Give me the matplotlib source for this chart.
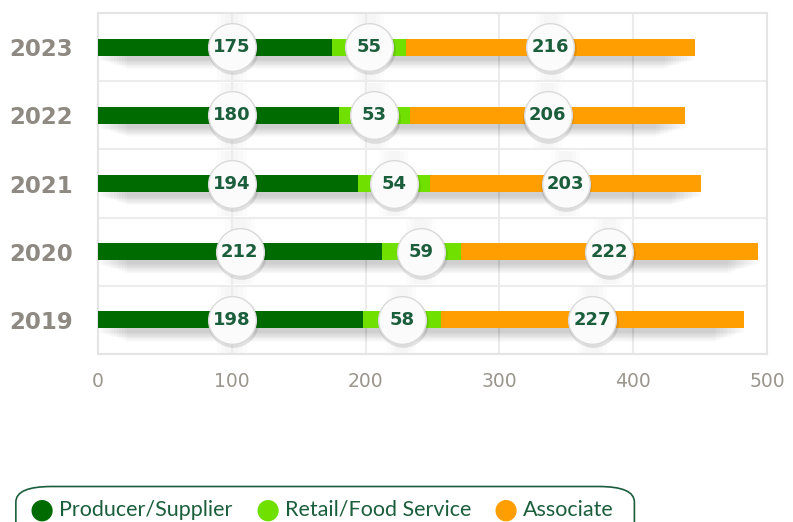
import numpy as np
import matplotlib
matplotlib.use("Agg")
import matplotlib.pyplot as plt
from matplotlib.patches import FancyBboxPatch

years = ["2019", "2020", "2021", "2022", "2023"]
producer = [198, 212, 194, 180, 175]
retail = [58, 59, 54, 53, 55]
associate = [227, 222, 203, 206, 216]

series_names = ["Producer/Supplier", "Retail/Food Service", "Associate"]
colors = ["#006b00", "#6fe000", "#ff9e00"]
label_color = "#1b5e3b"
grey_text = "#8e8a82"

fig = plt.figure(figsize=(7.93, 5.22), dpi=100)
ax = fig.add_axes([0.1236, 0.3218, 0.8436, 0.6533])

y = np.arange(len(years))
bar_h = 0.25
values = [np.array(producer), np.array(retail), np.array(associate)]
total = sum(values)

# soft shadow under the bars
for k in range(12):
    ax.barh(y - 0.06 - k * 0.012, total - 4 * k, left=2 * k, height=bar_h,
            color="#000000", alpha=0.014, zorder=2, linewidth=0)

left = np.zeros(len(years))
centers = []
for vals, c in zip(values, colors):
    ax.barh(y, vals, left=left, height=bar_h, color=c, zorder=3, linewidth=0)
    centers.append(left + vals / 2)
    left = left + vals

# value bubbles
for i, (vals, cen) in enumerate(zip(values, centers)):
    if i == 0:
        cen = np.maximum(cen, 100)
    for yy, xx, v in zip(y, cen, vals):
        # faint vertical glow behind the bubble
        for w in (22, 16, 10):
            ax.add_patch(plt.Rectangle((xx - w / 2, yy - 0.48), w, 0.96, color="#000000",
                                       alpha=0.012, zorder=1, linewidth=0))
        ax.scatter(xx + 0.6, yy - 0.035, s=1330, color="#000000", alpha=0.10,
                   zorder=4, linewidths=0)
        ax.scatter(xx, yy, s=1180, color="#fbfbfb", edgecolors="#dadada",
                   linewidths=1.0, zorder=5)
        ax.text(xx, yy, str(v), ha="center", va="center", fontsize=13,
                fontweight="bold", color=label_color, zorder=6)

ax.set_xlim(0, 500)
ax.set_ylim(-0.5, 4.5)
ax.set_xticks([0, 100, 200, 300, 400, 500])
ax.set_yticks(y)
ax.set_yticklabels(years, fontsize=16.5, fontweight="bold", color=grey_text)
ax.tick_params(axis="x", colors="#9a968e", labelsize=13.5, length=0, pad=13)
ax.tick_params(axis="y", length=0, pad=18)
ax.set_yticks(np.arange(-0.5, 5, 1), minor=True)
ax.grid(True, axis="x", color="#ececec", linewidth=1.5, zorder=0)
ax.grid(True, axis="y", which="minor", color="#ececec", linewidth=1.5, zorder=0)
ax.tick_params(axis="y", which="minor", length=0)
for s in ax.spines.values():
    s.set_color("#e4e4e4")
    s.set_linewidth(1.5)

# legend box
box = FancyBboxPatch((0.02, -0.06), 0.78, 0.128, transform=fig.transFigure,
                     boxstyle="round,pad=0,rounding_size=0.045",
                     facecolor="white", edgecolor=label_color, linewidth=1.2,
                     mutation_aspect=0.66)
fig.add_artist(box)
leg_x = [0.053, 0.338, 0.638]
for lx, name, c in zip(leg_x, series_names, colors):
    fig.text(lx, 0.024, "\u25cf", color=c, fontsize=20, ha="center", va="center")
    fig.text(lx + 0.022, 0.023, name, color=label_color, fontsize=15.5,
             ha="left", va="center", family=["Lato", "DejaVu Sans"])

fig.savefig("out.png", dpi=100)
